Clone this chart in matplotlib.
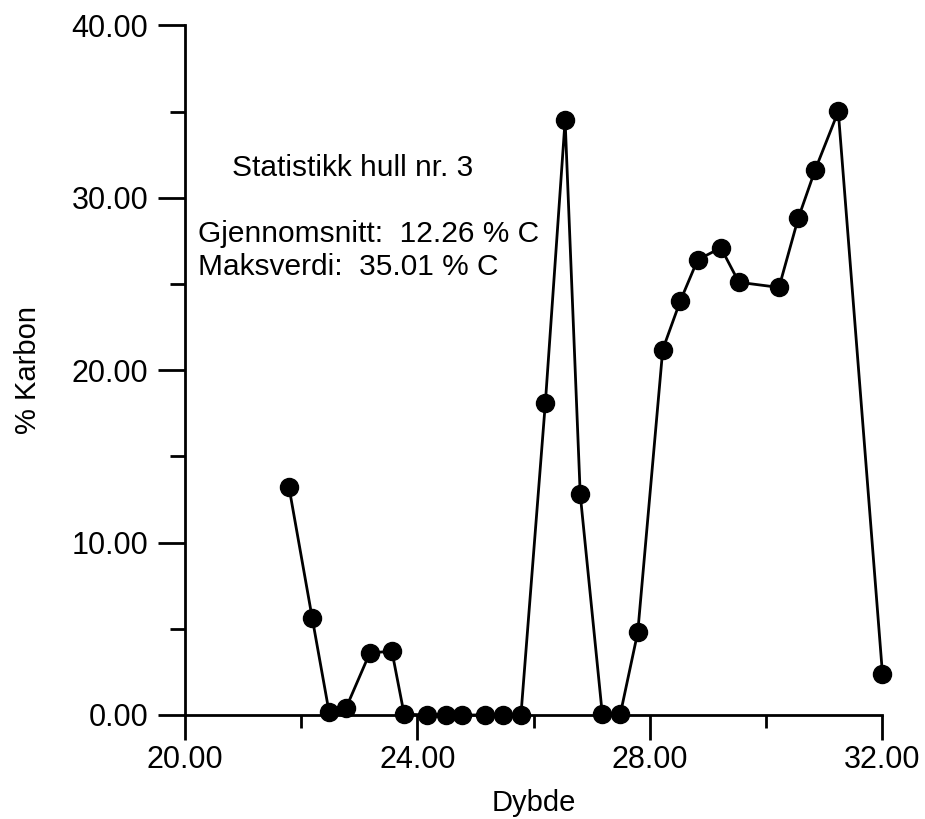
import matplotlib
matplotlib.use("Agg")
import matplotlib.pyplot as plt
from matplotlib.ticker import MultipleLocator, FormatStrFormatter

plt.rcParams['font.family'] = ['Liberation Sans', 'DejaVu Sans']

# depth (m) and carbon content (%)
dybde = [21.79, 22.19, 22.48, 22.77, 23.18, 23.56, 23.77, 24.17, 24.49, 24.77,
         25.16, 25.47, 25.78, 26.20, 26.54, 26.80, 27.18, 27.49, 27.79, 28.22,
         28.52, 28.82, 29.22, 29.53, 30.22, 30.55, 30.84, 31.24, 32.00]
karbon = [13.2, 5.6, 0.15, 0.4, 3.6, 3.7, 0.05, 0.0, 0.0, 0.0,
          0.0, 0.0, 0.0, 18.1, 34.5, 12.8, 0.05, 0.05, 4.8, 21.2,
          24.0, 26.4, 27.1, 25.1, 24.8, 28.8, 31.6, 35.01, 2.4]

tittel = "Statistikk hull nr. 3"
snitt_tekst = "Gjennomsnitt:  12.26 % C"
maks_tekst = "Maksverdi:  35.01 % C"

fig = plt.figure(figsize=(9.25, 8.19), dpi=100)
ax = fig.add_axes([0.200, 0.127, 0.754, 0.842])

ax.plot(dybde, karbon, 'o-', color='black', linewidth=2.0, markersize=13,
        clip_on=False, zorder=3)

ax.set_xlim(20, 32)
ax.set_ylim(0, 40)

ax.xaxis.set_major_locator(MultipleLocator(4))
ax.xaxis.set_minor_locator(MultipleLocator(2))
ax.yaxis.set_major_locator(MultipleLocator(10))
ax.yaxis.set_minor_locator(MultipleLocator(5))
ax.xaxis.set_major_formatter(FormatStrFormatter('%.2f'))
ax.yaxis.set_major_formatter(FormatStrFormatter('%.2f'))

for side in ['top', 'right']:
    ax.spines[side].set_visible(False)
for side in ['left', 'bottom']:
    ax.spines[side].set_linewidth(2)

ax.tick_params(axis='y', which='major', length=19.5, width=2, labelsize=22, pad=7)
ax.tick_params(axis='y', which='minor', length=11, width=2)
ax.tick_params(axis='x', which='major', length=18, width=2, labelsize=22, pad=3.5)
ax.tick_params(axis='x', which='minor', length=9.5, width=2)

ax.set_xlabel("Dybde", fontsize=21)
ax.set_ylabel("% Karbon", fontsize=21)
ax.xaxis.set_label_coords(0.5, -0.108)
ax.yaxis.set_label_coords(-0.205, 0.5)

ax.text(20.81, 31.75, tittel, fontsize=21.5, va='center', ha='left')
ax.text(20.22, 27.9, snitt_tekst, fontsize=21.5, va='center', ha='left')
ax.text(20.22, 26.0, maks_tekst, fontsize=21.5, va='center', ha='left')

fig.savefig("out.png", dpi=100)
